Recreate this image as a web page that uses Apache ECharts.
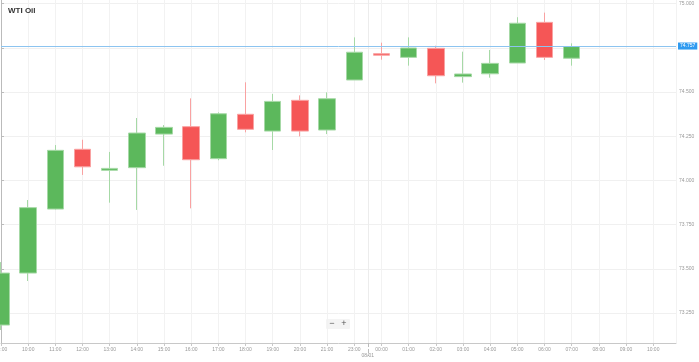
<!DOCTYPE html>
<html><head><meta charset="utf-8">
<script src="https://cdn.jsdelivr.net/npm/echarts@6/dist/echarts.min.js"></script>
<style>html,body{margin:0;padding:0;background:#fff}#c{width:699px;height:362px}</style>
</head><body><div id="c"></div>
<script>
const timeLabels = ['09:00','10:00','11:00','12:00','13:00','14:00','15:00','16:00','17:00','18:00','19:00','20:00','21:00','23:00','00:00','01:00','02:00','03:00','04:00','05:00','06:00','07:00','08:00','09:00','10:00'];
const openV  = [73.182,73.476,73.838,74.176,74.057,74.072,74.262,74.304,74.123,74.374,74.279,74.453,74.285,74.568,74.717,74.696,74.747,74.587,74.603,74.664,74.894,74.691];
const closeV = [73.476,73.846,74.170,74.077,74.068,74.268,74.300,74.117,74.377,74.289,74.447,74.279,74.462,74.725,74.708,74.749,74.592,74.602,74.662,74.889,74.696,74.757];
const lowV   = [73.154,73.431,73.835,74.031,73.874,73.833,74.083,73.842,74.114,74.272,74.172,74.249,74.262,74.568,74.683,74.649,74.549,74.553,74.581,74.664,74.681,74.649];
const highV  = [73.538,73.889,74.200,74.230,74.161,74.353,74.313,74.464,74.385,74.555,74.489,74.481,74.498,74.809,74.779,74.809,74.762,74.728,74.738,74.923,74.949,74.775];
const yTicks = [73.25,73.5,73.75,74,74.25,74.5,74.75,75];
const lastPrice = 74.757;
const dayLabel = '08/01';
const dayBoundary = 13.5;

const candles = openV.map((o,i)=>[i,o,closeV[i],lowV[i],highV[i]]);

const chart = echarts.init(document.getElementById('c'), null, {renderer:'canvas'});
chart.setOption({
  animation:false,
  backgroundColor:'#fff',
  title:{text:'WTI Oil',left:8,top:7,padding:0,textStyle:{fontSize:8,fontWeight:'bold',color:'#333',fontFamily:'Liberation Sans, Arial, sans-serif'}},
  grid:{left:1,right:23,top:0,bottom:19,containLabel:false,outerBoundsMode:'none'},
  xAxis:[{
    type:'value',min:0,max:24.84,interval:1,position:'bottom',
    axisLine:{show:true,lineStyle:{color:'#c8c8c8'}},
    axisTick:{show:true,length:3,lineStyle:{color:'#c8c8c8'}},
    axisLabel:{fontSize:5,color:'#999',margin:4,fontFamily:'Liberation Sans, Arial, sans-serif',
      formatter:v=>Number.isInteger(v)?timeLabels[v]:'',showMaxLabel:false,hideOverlap:false},
    splitLine:{show:true,lineStyle:{color:'#f2f2f2'}}
  },{
    type:'value',min:0,max:24.84,position:'bottom',
    axisLine:{show:false},
    axisTick:{show:true,length:13,customValues:[dayBoundary],lineStyle:{color:'#bbb',type:'dashed'}},
    axisLabel:{show:true,customValues:[dayBoundary],formatter:()=>dayLabel,fontSize:5,color:'#999',margin:10,fontFamily:'Liberation Sans, Arial, sans-serif'},
    splitLine:{show:true,lineStyle:{color:'#ececec'}}
  }],
  yAxis:{
    type:'value',position:'right',min:73.0804,max:75.0204,scale:true,
    axisLine:{show:true,lineStyle:{color:'#bbb'}},
    axisTick:{show:true,length:3,customValues:yTicks,lineStyle:{color:'#bbb'}},
    axisLabel:{customValues:yTicks,formatter:v=>v.toFixed(3),fontSize:5,color:'#999',margin:3,fontFamily:'Liberation Sans, Arial, sans-serif'},
    splitLine:{show:true,lineStyle:{color:'#f0f0f0'}}
  },
  series:[{
    type:'candlestick',xAxisIndex:0,yAxisIndex:0,
    encode:{x:0,y:[1,2,3,4]},
    barWidth:17,clip:true,
    data:candles,
    itemStyle:{color:'#5cb85c',color0:'#f55656',borderColor:'#a6d9a6',borderColor0:'#f9a2a2',borderWidth:1},
    markLine:{
      silent:true,symbol:['none','none'],
      lineStyle:{color:'#8cc4f0',width:1,type:'solid'},
      label:{show:true,position:'end',distance:2,formatter:()=>lastPrice.toFixed(3),
        backgroundColor:'#2e9af0',color:'#fff',fontSize:5,padding:[1,2],fontFamily:'Liberation Sans, Arial, sans-serif'},
      data:[{yAxis:lastPrice}]
    }
  }],
  graphic:[{
    type:'group',left:326,top:319,
    children:[
      {type:'rect',shape:{x:0,y:0,width:24,height:10,r:1},style:{fill:'#f4f4f4'}},
      {type:'text',style:{x:6,y:5,text:'−',fontSize:9,fill:'#555',align:'center',verticalAlign:'middle'}},
      {type:'text',style:{x:18,y:5,text:'+',fontSize:9,fill:'#555',align:'center',verticalAlign:'middle'}}
    ]
  }]
});
</script></body></html>
